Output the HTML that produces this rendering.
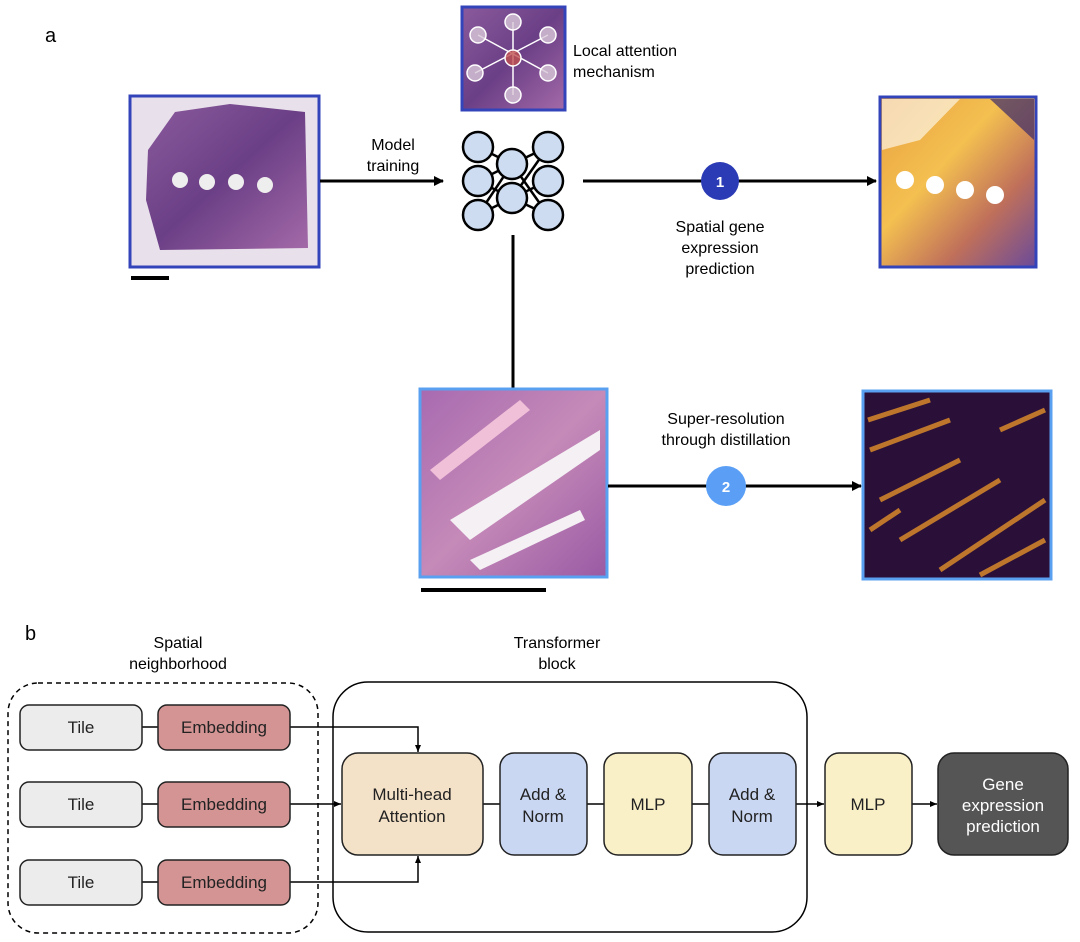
<!DOCTYPE html>
<html><head><style>body{margin:0;background:#fff}svg{display:block}text{font-family:"Liberation Sans",sans-serif}</style></head><body>
<svg width="1080" height="942" viewBox="0 0 1080 942">
<defs>
<marker id="ah" markerWidth="10" markerHeight="10" refX="9" refY="5" orient="auto" markerUnits="userSpaceOnUse"><path d="M0,0 L10,5 L0,10z" fill="#000"/></marker>
<marker id="as" markerWidth="8" markerHeight="8" refX="7" refY="4" orient="auto" markerUnits="userSpaceOnUse"><path d="M0,1 L7,4 L0,7z" fill="#000"/></marker>
<linearGradient id="he" x1="0" y1="0" x2="1" y2="1"><stop offset="0" stop-color="#8a5a9c"/><stop offset="0.5" stop-color="#6b3f86"/><stop offset="1" stop-color="#a46aa8"/></linearGradient>
<linearGradient id="heat" x1="0" y1="0" x2="1" y2="1"><stop offset="0" stop-color="#e8a040"/><stop offset="0.4" stop-color="#f4c050"/><stop offset="0.7" stop-color="#c0705a"/><stop offset="1" stop-color="#6a4a9a"/></linearGradient>
<linearGradient id="he2" x1="0" y1="0" x2="1" y2="1"><stop offset="0" stop-color="#a86ab0"/><stop offset="0.5" stop-color="#c58ab8"/><stop offset="1" stop-color="#9a5aa4"/></linearGradient>
</defs>
<text x="45" y="42" font-size="20">a</text>
<text x="25" y="640" font-size="20">b</text>
<rect x="130" y="96" width="189" height="171" fill="#e8e0ea" stroke="#3344bb" stroke-width="3"/>
<path d="M148,150 L175,112 L230,104 L305,112 L308,248 L160,250 L146,200z" fill="url(#he)"/>
<circle cx="180" cy="180" r="8" fill="#eee"/><circle cx="207" cy="182" r="8" fill="#eee"/><circle cx="236" cy="182" r="8" fill="#eee"/><circle cx="265" cy="185" r="8" fill="#eee"/>
<rect x="131" y="276" width="38" height="4" fill="#000"/>
<line x1="320" y1="181" x2="443" y2="181" stroke="#000" stroke-width="3" marker-end="url(#ah)"/>
<text x="393" y="150" font-size="16" text-anchor="middle">Model</text>
<text x="393" y="171" font-size="16" text-anchor="middle">training</text>
<rect x="462" y="7" width="103" height="103" fill="url(#he)" stroke="#3344bb" stroke-width="3"/>
<g stroke="#fff" stroke-width="1.5"><line x1="513" y1="22" x2="513" y2="95"/><line x1="478" y1="35" x2="548" y2="73"/><line x1="548" y1="35" x2="475" y2="73"/></g>
<g fill="#d8c8d8" fill-opacity="0.8" stroke="#fff" stroke-width="1.5">
<circle cx="513" cy="22" r="8"/><circle cx="478" cy="35" r="8"/><circle cx="548" cy="35" r="8"/><circle cx="475" cy="73" r="8"/><circle cx="548" cy="73" r="8"/><circle cx="513" cy="95" r="8"/><circle cx="513" cy="58" r="8" fill="#c05050"/></g>
<text x="573" y="56" font-size="16">Local attention</text>
<text x="573" y="77" font-size="16">mechanism</text>
<g stroke="#000" stroke-width="2.5" fill="#cddcf0">
<line x1="478" y1="147" x2="512" y2="164"/><line x1="478" y1="181" x2="512" y2="198"/><line x1="478" y1="215" x2="512" y2="164"/><line x1="478" y1="181" x2="512" y2="164"/><line x1="478" y1="215" x2="512" y2="198"/><line x1="548" y1="147" x2="512" y2="198"/><line x1="548" y1="215" x2="512" y2="164"/><line x1="548" y1="181" x2="512" y2="198"/><line x1="548" y1="147" x2="512" y2="164"/><line x1="548" y1="215" x2="512" y2="198"/>
<circle cx="478" cy="147" r="15"/><circle cx="478" cy="181" r="15"/><circle cx="478" cy="215" r="15"/>
<circle cx="512" cy="164" r="15"/><circle cx="512" cy="198" r="15"/>
<circle cx="548" cy="147" r="15"/><circle cx="548" cy="181" r="15"/><circle cx="548" cy="215" r="15"/></g>
<line x1="583" y1="181" x2="876" y2="181" stroke="#000" stroke-width="3" marker-end="url(#ah)"/>
<circle cx="720" cy="181" r="19" fill="#2b3bb5"/><text x="720" y="187" font-size="15" font-weight="bold" fill="#fff" text-anchor="middle">1</text>
<text x="720" y="232" font-size="16" text-anchor="middle">Spatial gene</text>
<text x="720" y="253" font-size="16" text-anchor="middle">expression</text>
<text x="720" y="274" font-size="16" text-anchor="middle">prediction</text>
<rect x="880" y="97" width="156" height="170" fill="url(#heat)" stroke="#3344bb" stroke-width="3"/>
<path d="M882,99 L960,99 L920,140 L882,150z" fill="#fff" fill-opacity="0.6"/>
<path d="M990,99 L1034,99 L1034,140z" fill="#3a2a6a" fill-opacity="0.7"/>
<circle cx="905" cy="180" r="9" fill="#fff"/><circle cx="935" cy="185" r="9" fill="#fff"/><circle cx="965" cy="190" r="9" fill="#fff"/><circle cx="995" cy="195" r="9" fill="#fff"/>
<line x1="513" y1="235" x2="513" y2="388" stroke="#000" stroke-width="3"/>
<rect x="420" y="389" width="187" height="188" fill="url(#he2)" stroke="#5aa0f0" stroke-width="3"/>
<path d="M430,470 L520,400 L530,410 L440,480z" fill="#f0c0d8"/>
<path d="M450,520 L600,430 L600,450 L470,540z" fill="#f4f0f4"/>
<path d="M470,560 L580,510 L585,520 L480,570z" fill="#f4f0f4"/>
<rect x="421" y="588" width="125" height="4" fill="#000"/>
<line x1="608" y1="486" x2="861" y2="486" stroke="#000" stroke-width="3" marker-end="url(#ah)"/>
<circle cx="726" cy="486" r="20" fill="#5a9ff5"/><text x="726" y="492" font-size="15" font-weight="bold" fill="#fff" text-anchor="middle">2</text>
<text x="726" y="424" font-size="16" text-anchor="middle">Super-resolution</text>
<text x="726" y="445" font-size="16" text-anchor="middle">through distillation</text>
<rect x="863" y="391" width="188" height="188" fill="#2a1038" stroke="#5aa0f0" stroke-width="3"/>
<g stroke="#d8882a" stroke-width="5" fill="none" opacity="0.85">
<path d="M868,420 L930,400 M870,450 L950,420 M880,500 L960,460 M900,540 L1000,480 M940,570 L1045,500 M980,575 L1045,540 M1000,430 L1045,410 M870,530 L900,510"/>
</g>
<text x="178" y="648" font-size="16" text-anchor="middle">Spatial</text>
<text x="178" y="669" font-size="16" text-anchor="middle">neighborhood</text>
<text x="557" y="648" font-size="16" text-anchor="middle">Transformer</text>
<text x="557" y="669" font-size="16" text-anchor="middle">block</text>
<rect x="8" y="683" width="310" height="250" rx="30" fill="none" stroke="#000" stroke-width="1.5" stroke-dasharray="5,4"/>
<rect x="333" y="682" width="474" height="250" rx="35" fill="none" stroke="#000" stroke-width="1.5"/>
<g stroke="#000" stroke-width="1.5">
<line x1="142" y1="727" x2="158" y2="727"/><line x1="142" y1="804" x2="158" y2="804"/><line x1="142" y1="882" x2="158" y2="882"/>
<polyline points="290,727 418,727 418,752" fill="none" marker-end="url(#as)"/>
<line x1="290" y1="804" x2="341" y2="804" marker-end="url(#as)"/>
<polyline points="290,882 418,882 418,856" fill="none" marker-end="url(#as)"/>
<line x1="483" y1="804" x2="500" y2="804"/><line x1="587" y1="804" x2="604" y2="804"/><line x1="692" y1="804" x2="709" y2="804"/>
<line x1="796" y1="804" x2="824" y2="804" marker-end="url(#as)"/><line x1="912" y1="804" x2="937" y2="804" marker-end="url(#as)"/>
</g>
<g stroke="#222" stroke-width="1.5">
<rect x="20" y="705" width="122" height="45" rx="9" fill="#ececec"/>
<rect x="20" y="782" width="122" height="45" rx="9" fill="#ececec"/>
<rect x="20" y="860" width="122" height="45" rx="9" fill="#ececec"/>
<rect x="158" y="705" width="132" height="45" rx="9" fill="#d49494"/>
<rect x="158" y="782" width="132" height="45" rx="9" fill="#d49494"/>
<rect x="158" y="860" width="132" height="45" rx="9" fill="#d49494"/>
<rect x="342" y="753" width="141" height="102" rx="16" fill="#f4e2c8"/>
<rect x="500" y="753" width="87" height="102" rx="14" fill="#cad7f3"/>
<rect x="604" y="753" width="88" height="102" rx="14" fill="#faf0c8"/>
<rect x="709" y="753" width="87" height="102" rx="14" fill="#cad7f3"/>
<rect x="825" y="753" width="87" height="102" rx="14" fill="#faf0c8"/>
<rect x="938" y="753" width="130" height="102" rx="16" fill="#555"/>
</g>
<g font-size="17" text-anchor="middle" fill="#222">
<text x="81" y="733">Tile</text><text x="81" y="810">Tile</text><text x="81" y="888">Tile</text>
<text x="224" y="733">Embedding</text><text x="224" y="810">Embedding</text><text x="224" y="888">Embedding</text>
<text x="412" y="800">Multi-head</text><text x="412" y="822">Attention</text>
<text x="543" y="800">Add &amp;</text><text x="543" y="822">Norm</text>
<text x="648" y="810">MLP</text>
<text x="752" y="800">Add &amp;</text><text x="752" y="822">Norm</text>
<text x="868" y="810">MLP</text>
<text x="1003" y="790" fill="#fff">Gene</text><text x="1003" y="811" fill="#fff">expression</text><text x="1003" y="832" fill="#fff">prediction</text>
</g>
</svg>
</body></html>
